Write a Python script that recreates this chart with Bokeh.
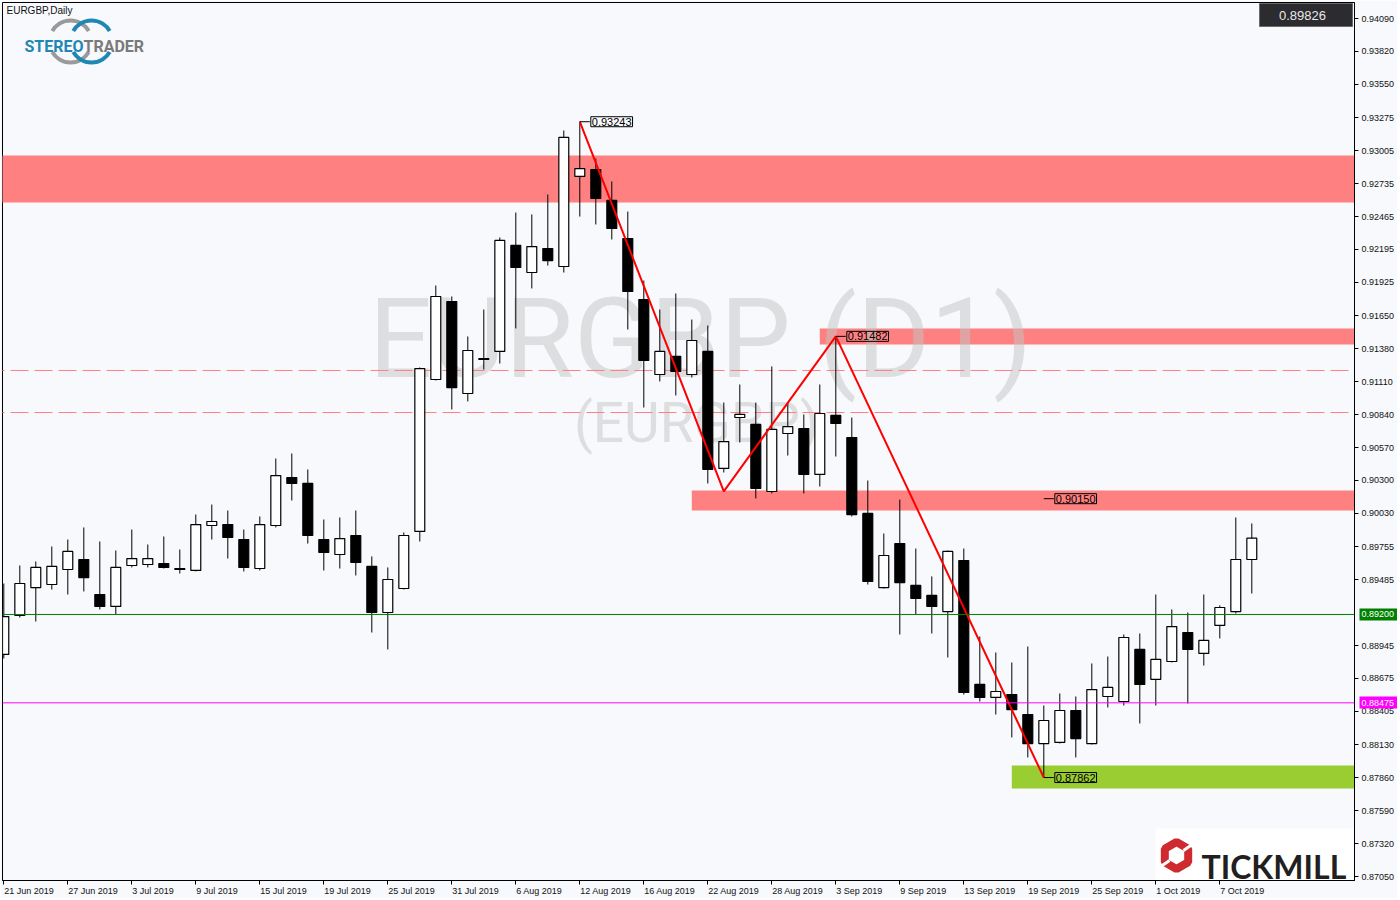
import numpy as np
from bokeh.plotting import figure
from bokeh.models import (Range1d, FixedTicker, PrintfTickFormatter,
                          CustomJSTickFormatter, Span, Label, LinearAxis)
from bokeh.core.properties import value
from bokeh.embed import file_html
from bokeh.resources import INLINE

# ---------------- data ----------------
chart_title = "EURGBP,Daily"
watermark = "EURGBP (D1)"
watermark_sub = "(EURGBP)"

tick_dates = ["21 Jun 2019", "27 Jun 2019", "3 Jul 2019", "9 Jul 2019", "15 Jul 2019",
              "19 Jul 2019", "25 Jul 2019", "31 Jul 2019", "6 Aug 2019", "12 Aug 2019",
              "16 Aug 2019", "22 Aug 2019", "28 Aug 2019", "3 Sep 2019", "9 Sep 2019",
              "13 Sep 2019", "19 Sep 2019", "25 Sep 2019", "1 Oct 2019", "7 Oct 2019"]
tick_bars = [0, 4, 8, 12, 16, 20, 24, 28, 32, 36, 40, 44, 48, 52, 56, 60, 64, 68, 72, 76]

price_ticks = [0.94090, 0.93820, 0.93550, 0.93275, 0.93005, 0.92735, 0.92465, 0.92195,
               0.91925, 0.91650, 0.91380, 0.91110, 0.90840, 0.90570, 0.90300, 0.90030,
               0.89755, 0.89485, 0.88945, 0.88675, 0.88405, 0.88130, 0.87860, 0.87590,
               0.87320, 0.87050]

opens = [0.88872, 0.89192, 0.89421, 0.89446, 0.89569, 0.89651, 0.89364, 0.89266, 0.89602, 0.89610,
         0.89618, 0.89577, 0.89561, 0.89930, 0.89938, 0.89815, 0.89577, 0.89930, 0.90324, 0.90275,
         0.89815, 0.89692, 0.89848, 0.89594, 0.89216, 0.89413, 0.89881, 0.91128, 0.91768, 0.91013,
         0.91300, 0.91358, 0.92228, 0.92006, 0.92203, 0.92055, 0.92794, 0.92851, 0.92597, 0.92285,
         0.91784, 0.91169, 0.91317, 0.91169, 0.91358, 0.90398, 0.90816, 0.90759, 0.90209, 0.90685,
         0.90726, 0.90349, 0.90833, 0.90652, 0.90029, 0.89421, 0.89782, 0.89438, 0.89356, 0.89224,
         0.89643, 0.88626, 0.88519, 0.88543, 0.88379, 0.88141, 0.88150, 0.88412, 0.88141, 0.88527,
         0.88486, 0.88913, 0.88667, 0.88814, 0.89052, 0.88880, 0.89110, 0.89224, 0.89651]
highs = [0.89454, 0.89602, 0.89635, 0.89758, 0.89815, 0.89914, 0.89799, 0.89725, 0.89897, 0.89774,
         0.89840, 0.89733, 0.90020, 0.90102, 0.90053, 0.89897, 0.90004, 0.90480, 0.90521, 0.90390,
         0.89979, 0.89996, 0.90053, 0.89676, 0.89586, 0.89873, 0.91227, 0.91899, 0.91809, 0.91481,
         0.91702, 0.92293, 0.92498, 0.92482, 0.92646, 0.93171, 0.93243, 0.92941, 0.92753, 0.92506,
         0.91940, 0.91702, 0.91834, 0.91620, 0.91571, 0.90939, 0.91087, 0.90939, 0.91235, 0.90939,
         0.90841, 0.91087, 0.91482, 0.90816, 0.90299, 0.89864, 0.90143, 0.89741, 0.89512, 0.89725,
         0.89741, 0.89019, 0.88888, 0.88806, 0.88937, 0.88453, 0.88552, 0.88527, 0.88798, 0.88855,
         0.89036, 0.89044, 0.89364, 0.89241, 0.89216, 0.89364, 0.89274, 0.89996, 0.89947]
lows = [0.88839, 0.89175, 0.89142, 0.89405, 0.89364, 0.89389, 0.89241, 0.89200, 0.89586, 0.89586,
        0.89577, 0.89536, 0.89553, 0.89815, 0.89659, 0.89553, 0.89561, 0.89914, 0.90135, 0.89782,
        0.89561, 0.89577, 0.89520, 0.89052, 0.88913, 0.89405, 0.89799, 0.91120, 0.90882, 0.90948,
        0.91210, 0.91259, 0.91547, 0.91875, 0.92063, 0.92006, 0.92465, 0.92400, 0.92277, 0.91538,
        0.90898, 0.91112, 0.90997, 0.91144, 0.90275, 0.90365, 0.90611, 0.90152, 0.90193, 0.90504,
        0.90193, 0.90250, 0.90496, 0.90004, 0.89446, 0.89413, 0.89036, 0.89200, 0.89044, 0.88847,
        0.88543, 0.88486, 0.88379, 0.88191, 0.88027, 0.87862, 0.88141, 0.88027, 0.88133, 0.88437,
        0.88453, 0.88306, 0.88453, 0.88806, 0.88470, 0.88781, 0.89003, 0.89208, 0.89372]
closes = [0.89183, 0.89454, 0.89586, 0.89594, 0.89717, 0.89503, 0.89266, 0.89586, 0.89659, 0.89659,
          0.89586, 0.89569, 0.89938, 0.89963, 0.89832, 0.89586, 0.89938, 0.90340, 0.90275, 0.89848,
          0.89709, 0.89823, 0.89627, 0.89216, 0.89487, 0.89848, 0.91218, 0.91809, 0.91062, 0.91366,
          0.91292, 0.92269, 0.92047, 0.92219, 0.92104, 0.93114, 0.92859, 0.92613, 0.92367, 0.91850,
          0.91284, 0.91358, 0.91194, 0.91448, 0.90390, 0.90619, 0.90841, 0.90234, 0.90718, 0.90742,
          0.90349, 0.90849, 0.90767, 0.90020, 0.89471, 0.89684, 0.89462, 0.89331, 0.89266, 0.89717,
          0.88560, 0.88519, 0.88568, 0.88420, 0.88141, 0.88330, 0.88412, 0.88182, 0.88584, 0.88601,
          0.89011, 0.88626, 0.88831, 0.89101, 0.88913, 0.88987, 0.89257, 0.89651, 0.89826]

zone_top = [0.92966, 0.91547, 0.90217, 0.87961]
zone_bottom = [0.92580, 0.91415, 0.90053, 0.87772]
zone_start_bar = [-2, 51, 43, 63]
zone_color = ["#FF8080", "#FF8080", "#FF8080", "#9ACD32"]

dashed_levels = [0.91202, 0.90857]
support_level = 0.89200
pivot_level = 0.88475
last_price = 0.89826

zigzag_bars = [36, 45, 52, 65]
zigzag_prices = [0.93243, 0.90210, 0.91482, 0.87862]
marked_bars = [36, 52, 65, 65]
marked_prices = [0.93243, 0.91482, 0.90150, 0.87862]

# ---------------- layout helpers ----------------
BG = "#F7F9FC"
LEFT, TOP = 2, 2
FW, FH = 1352, 878
BAR_PX = 16.0
X0 = (LEFT - 3.3) / BAR_PX
X1 = X0 + FW / BAR_PX
SY = 12187.5
YT = 0.94090 + (18 - TOP) / SY
YB = YT - FH / SY
FONT = "Liberation Sans"


def px2x(px):
    return X0 + (px - LEFT) / BAR_PX


def py2y(py):
    return YT - (py - TOP) / SY


p = figure(frame_width=FW, frame_height=FH,
           x_range=Range1d(X0, X1), y_range=Range1d(YB, YT),
           y_axis_location="right", output_backend="svg", toolbar_location=None,
           background_fill_color=BG, border_fill_color=BG,
           min_border_left=LEFT, min_border_top=TOP, min_border_right=0, min_border_bottom=0)
p.grid.visible = False
p.outline_line_color = "#000000"
p.outline_line_width = 1

# ---------------- zones (background) ----------------
p.quad(left=zone_start_bar, right=[X1 + 2] * len(zone_top), top=zone_top, bottom=zone_bottom,
       fill_color=zone_color, line_color=None)

# watermark
p.text(x=[px2x(700)], y=[py2y(338)], text=[watermark], text_font=value("Roboto"),
       text_font_size=value("112px"), text_color="#c4c4c4", text_alpha=0.5,
       text_align="center", text_baseline="alphabetic")
p.text(x=[px2x(696)], y=[py2y(422)], text=[watermark_sub], text_font=value("Roboto"),
       text_font_size=value("55px"), text_color="#c4c4c4", text_alpha=0.5,
       text_align="center", text_baseline="alphabetic")

# dashed levels (behind candles)
for lvl in dashed_levels:
    p.segment(x0=[X0 - 1], y0=[lvl], x1=[X1 + 1], y1=[lvl], line_color="#FF8080",
              line_width=1, line_dash="18 6")

# ---------------- candles ----------------
idx = np.arange(len(opens))
o = np.array(opens); h = np.array(highs); l = np.array(lows); c = np.array(closes)
up = c >= o
p.segment(x0=idx, y0=h, x1=idx, y1=l, line_color="black", line_width=1)
p.vbar(x=idx[up], width=0.62, top=c[up], bottom=o[up], fill_color="white",
       line_color="black", line_width=1.2)
p.vbar(x=idx[~up], width=0.62, top=o[~up], bottom=c[~up], fill_color="black",
       line_color="black", line_width=1.2)

# zigzag
p.line(x=zigzag_bars, y=zigzag_prices, line_color="#FF0000", line_width=2)

# marked price boxes
conn = 10 / BAR_PX
p.segment(x0=marked_bars, y0=marked_prices, x1=[b + conn for b in marked_bars],
          y1=marked_prices, line_color="black", line_width=1)
for b, pr in zip(marked_bars, marked_prices):
    p.add_layout(Label(x=b + conn, y=pr, text=f"{pr:.5f}", text_font=FONT,
                       text_font_size="11px", text_color="black", text_baseline="middle",
                       text_align="left", x_offset=1, border_line_color="black",
                       border_line_width=1, padding=1))

# horizontal levels (foreground)
p.add_layout(Span(location=support_level, dimension="width", line_color="#008000", line_width=1))
p.add_layout(Span(location=pivot_level, dimension="width", line_color="#FF00FF", line_width=1))

# ---------------- right axis ----------------
ya = p.yaxis[0]
ya.ticker = FixedTicker(ticks=price_ticks)
ya.formatter = PrintfTickFormatter(format="%.5f")
ya.major_label_text_font = FONT
ya.major_label_text_font_size = "9px"
ya.major_label_text_color = "#111111"
ya.major_tick_out = 4
ya.major_tick_in = 0
ya.minor_tick_line_color = None
ya.major_label_standoff = 3
ya.axis_line_color = "black"
ya.major_tick_line_color = "black"


def tag_axis(level, color):
    return LinearAxis(ticker=FixedTicker(ticks=[level]),
                      formatter=PrintfTickFormatter(format="%.5f"),
                      axis_line_color=None, major_tick_line_color=color,
                      major_tick_line_width=12, major_tick_in=38, major_tick_out=0,
                      minor_tick_line_color=None, major_label_text_color="white",
                      major_label_text_font=FONT, major_label_text_font_size="9px",
                      major_label_standoff=-36)


p.add_layout(tag_axis(support_level, "#008000"), "right")
p.add_layout(tag_axis(pivot_level, "#FF00FF"), "right")

# ---------------- bottom axis ----------------
CW = {"0": 556, "1": 556, "2": 556, "3": 556, "4": 556, "5": 556, "6": 556, "7": 556,
      "8": 556, "9": 556, " ": 278, "J": 500, "u": 556, "n": 556, "l": 222, "A": 667,
      "g": 556, "S": 667, "e": 556, "p": 556, "O": 778, "c": 500, "t": 278}


def text_w(s, size=9):
    return sum(CW.get(ch, 556) for ch in s) * size / 1000.0


label_pos = [b + (text_w(s) / 2 + 0.5) / BAR_PX for b, s in zip(tick_bars, tick_dates)]
xa = p.xaxis[0]
xa.ticker = FixedTicker(ticks=label_pos, minor_ticks=tick_bars)
xa.formatter = CustomJSTickFormatter(args=dict(labels=tick_dates),
                                     code="return labels[index] || '';")
xa.major_tick_line_color = None
xa.major_tick_out = 3
xa.major_tick_in = 0
xa.minor_tick_line_color = "black"
xa.minor_tick_out = 4
xa.minor_tick_in = 0
xa.major_label_standoff = 1
xa.major_label_text_font = FONT
xa.major_label_text_font_size = "9px"
xa.major_label_text_color = "#111111"
xa.axis_line_color = "black"

# last price box (top right)
p.quad(left=[px2x(1259)], right=[px2x(1352)], top=[py2y(3)], bottom=[py2y(26)],
       fill_color="#2C2C30", line_color="#6a6a6a", line_width=1)
p.add_layout(Label(x=px2x(1302), y=py2y(15), text=f"{last_price:.5f}",
                   text_font=FONT, text_font_size="13px",
                   text_color="#E8E8E8", text_align="center", text_baseline="middle"))

# title
p.add_layout(Label(x=px2x(6), y=py2y(10), text=chart_title,
                   text_font=FONT, text_font_size="10px",
                   text_color="#111111", text_align="left", text_baseline="middle"))

# STEREOTRADER logo
for cx, col in [(70, "#9a9a9a"), (91, "#1E87B4")]:
    p.arc(x=[px2x(cx)], y=[py2y(41)], radius=21, radius_units="screen",
          start_angle=np.deg2rad(30), end_angle=np.deg2rad(150),
          line_color=col, line_width=4)
    p.arc(x=[px2x(cx)], y=[py2y(41)], radius=21, radius_units="screen",
          start_angle=np.deg2rad(210), end_angle=np.deg2rad(330),
          line_color=col, line_width=4)
p.add_layout(Label(x=px2x(83), y=py2y(46), text="STEREO",
                   text_font="Roboto", text_font_style="bold", text_font_size="16px",
                   text_color="#1E87B4", text_align="right", text_baseline="alphabetic"))
p.add_layout(Label(x=px2x(83), y=py2y(46), text="TRADER",
                   text_font="Roboto", text_font_style="bold", text_font_size="16px",
                   text_color="#7a7a7a", text_align="left", text_baseline="alphabetic"))

# TICKMILL logo
p.quad(left=[px2x(1155)], right=[px2x(1353)], top=[py2y(828)], bottom=[py2y(890)],
       fill_color="white", line_color=None)
p.scatter(x=[px2x(1176)], y=[py2y(855)], marker="hex", size=27, angle=np.pi / 2,
          fill_color=None, line_color="#CE2A2F", line_width=8)
p.segment(x0=[px2x(1183), px2x(1169)], y0=[py2y(850), py2y(860)],
          x1=[px2x(1196), px2x(1156)], y1=[py2y(841), py2y(869)],
          line_color="white", line_width=3)
p.add_layout(Label(x=px2x(1201), y=py2y(866), text="TICKMILL",
                   text_font="Lato", text_font_style="bold", text_font_size="32px",
                   text_color="#231F20", text_align="left", text_baseline="alphabetic"))

open("out.html", "w").write(file_html(p, INLINE))
